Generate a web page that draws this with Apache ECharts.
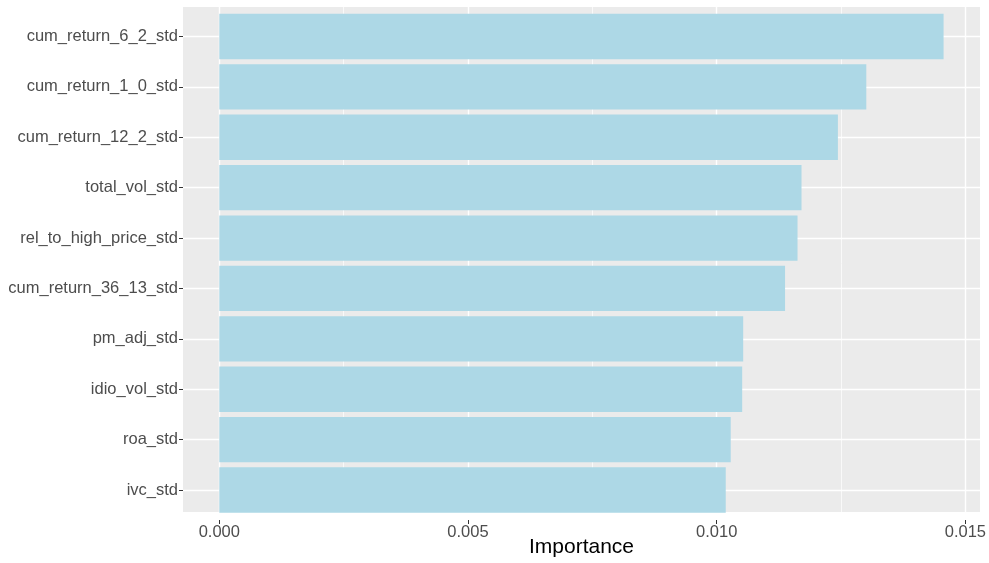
<!DOCTYPE html>
<html>
<head>
<meta charset="utf-8">
<script src="https://cdn.jsdelivr.net/npm/echarts@6/dist/echarts.min.js"></script>
<style>html,body{margin:0;padding:0;background:#fff}#c{width:989px;height:563px}</style>
</head>
<body>
<div id="c"></div>
<script>
// Data (top to bottom)
var features = ["cum_return_6_2_std","cum_return_1_0_std","cum_return_12_2_std","total_vol_std","rel_to_high_price_std","cum_return_36_13_std","pm_adj_std","idio_vol_std","roa_std","ivc_std"];
var importance = [0.01453, 0.01298, 0.01241, 0.01168, 0.01160, 0.01135, 0.01051, 0.01049, 0.01026, 0.01016];
var xTicks = [0, 0.005, 0.010, 0.015];
var xTitle = "Importance";

var FONT = '"Liberation Sans", Arial, Helvetica, sans-serif';
var PANEL = {left: 183, right: 9, top: 7, bottom: 43};
var DATA_X = {left: 219.3, right: 22};
var DATA_Y = {top: 36.5, bottom: 73};

var chart = echarts.init(document.getElementById('c'), null, {renderer: 'canvas'});
var hidden = {show: false};
chart.setOption({
  animation: false,
  backgroundColor: '#ffffff',
  grid: [
    // 0: panel background + axis title
    {left: PANEL.left, right: PANEL.right, top: PANEL.top, bottom: PANEL.bottom, show: true, backgroundColor: '#EBEBEB', borderWidth: 0, z: -1},
    // 1: vertical grid lines + x labels
    {left: DATA_X.left, right: DATA_X.right, top: PANEL.top, bottom: PANEL.bottom},
    // 2: horizontal grid lines + y labels
    {left: PANEL.left, right: PANEL.right, top: DATA_Y.top, bottom: DATA_Y.bottom},
    // 3: bars
    {left: DATA_X.left, right: DATA_X.right, top: DATA_Y.top, bottom: DATA_Y.bottom}
  ],
  xAxis: [
    {gridIndex: 0, type: 'value', min: 0, max: 1, axisLine: hidden, axisTick: hidden, axisLabel: hidden, splitLine: hidden,
     name: xTitle, nameLocation: 'middle', nameGap: 25, nameTextStyle: {color: '#000', fontSize: 21, fontFamily: FONT}},
    {gridIndex: 1, type: 'value', min: xTicks[0], max: xTicks[xTicks.length - 1], interval: 0.005,
     axisLine: hidden,
     axisTick: {show: true, length: 4, lineStyle: {color: '#333333', width: 1}},
     axisLabel: {show: true, margin: 4, color: '#4D4D4D', fontSize: 16.5, fontFamily: FONT,
       formatter: function (v) { return v.toFixed(3); }},
     splitLine: {show: true, lineStyle: {color: '#FFFFFF', width: 1.4}},
     minorTick: {show: false, splitNumber: 2},
     minorSplitLine: {show: true, lineStyle: {color: '#FFFFFF', width: 0.7}}},
    {gridIndex: 2, type: 'value', min: 0, max: 1, show: false},
    {gridIndex: 3, type: 'value', min: xTicks[0], max: xTicks[xTicks.length - 1], show: false}
  ],
  yAxis: [
    {gridIndex: 0, type: 'value', min: 0, max: 1, show: false},
    {gridIndex: 1, type: 'value', min: 0, max: 1, show: false},
    {gridIndex: 2, type: 'category', data: features, inverse: true, boundaryGap: false,
     axisLine: hidden,
     axisTick: {show: true, length: 4, lineStyle: {color: '#333333', width: 1}},
     axisLabel: {show: true, margin: 5, color: '#4D4D4D', fontSize: 16.5, fontFamily: FONT, padding: [5, 0, 0, 0]},
     splitLine: {show: true, lineStyle: {color: '#FFFFFF', width: 1.4}}},
    {gridIndex: 3, type: 'category', data: features, inverse: true, boundaryGap: false, show: false}
  ],
  series: [{
    type: 'bar',
    xAxisIndex: 3, yAxisIndex: 3,
    data: importance,
    barWidth: '90%',
    clip: false,
    itemStyle: {color: '#ADD8E6'},
    z: 5
  }]
});
</script>
</body>
</html>
